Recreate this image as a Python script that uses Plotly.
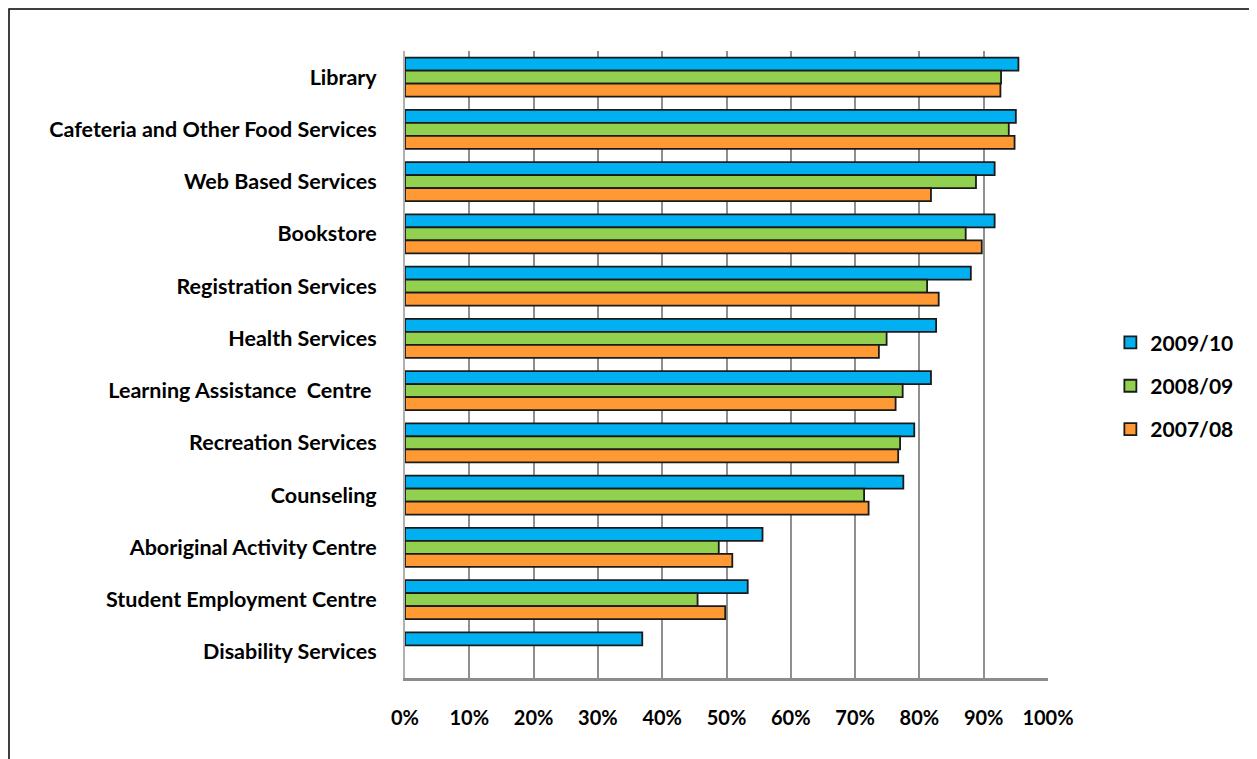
import plotly.graph_objects as go

categories = [
    "Library",
    "Cafeteria and Other Food Services",
    "Web Based Services",
    "Bookstore",
    "Registration Services",
    "Health Services",
    "Learning Assistance  Centre ",
    "Recreation Services",
    "Counseling",
    "Aboriginal Activity Centre",
    "Student Employment Centre",
    "Disability Services",
]

s2009_10 = [95.4, 95.0, 91.7, 91.7, 88.0, 82.6, 81.8, 79.2, 77.5, 55.6, 53.3, 36.9]
s2008_09 = [92.7, 93.9, 88.8, 87.2, 81.2, 74.9, 77.4, 77.0, 71.4, 48.8, 45.5, None]
s2007_08 = [92.6, 94.8, 81.8, 89.7, 83.0, 73.7, 76.3, 76.7, 72.1, 50.9, 49.8, None]

series = [
    ("2009/10", s2009_10, "#00B0F0"),
    ("2008/09", s2008_09, "#92D050"),
    ("2007/08", s2007_08, "#FF9933"),
]

tick_vals = [0, 10, 20, 30, 40, 50, 60, 70, 80, 90, 100]
tick_text = ["0%", "10%", "20%", "30%", "40%", "50%", "60%", "70%", "80%", "90%", "100%"]

fig = go.Figure()
for i, (name, vals, color) in enumerate(series):
    fig.add_trace(go.Bar(
        y=categories,
        x=[v / 100 if v is not None else None for v in vals],
        name=name,
        orientation="h",
        legendgroup=f"g{i}",
        marker=dict(color=color, line=dict(color="#1a1a1a", width=1.8)),
    ))

FONT = "Lato"
W, H = 1249, 751
L, R, T, B = 397, 209, 43, 81
PW, PH = W - L - R, H - T - B

fig.update_layout(
    width=W,
    height=H,
    paper_bgcolor="white",
    plot_bgcolor="white",
    barmode="group",
    bargap=0.25,
    bargroupgap=0.0,
    margin=dict(l=L, r=R, t=T, b=B),
    font=dict(family=FONT, size=21, color="black", weight=700),
    showlegend=True,
    legend=dict(
        x=1.097, xanchor="left", y=0.466, yanchor="middle",
        font=dict(family=FONT, size=21, color="black", weight=700),
        tracegroupgap=13,
        itemwidth=30,
        bgcolor="rgba(0,0,0,0)",
    ),
    xaxis=dict(
        range=[0, 1.0],
        tickvals=[v / 100 for v in tick_vals],
        ticktext=tick_text,
        showgrid=True,
        gridcolor="#8f8f8f",
        gridwidth=2,
        zeroline=False,
        showline=True,
        linecolor="#8c8c8c",
        linewidth=3,
        ticks="outside",
        ticklen=20,
        tickcolor="rgba(0,0,0,0)",
        tickfont=dict(family=FONT, size=20, color="black", weight=700),
    ),
    yaxis=dict(
        autorange="reversed",
        showgrid=False,
        showline=True,
        linecolor="#b0b0b0",
        linewidth=2,
        ticks="outside",
        ticklen=22,
        tickcolor="rgba(0,0,0,0)",
        tickfont=dict(family=FONT, size=21.5, color="black", weight=700),
    ),
    shapes=[
        dict(type="rect", xref="paper", yref="paper",
             x0=-(L - 1) / PW, x1=2.0, y0=-1.0, y1=1 + (T - 1) / PH,
             line=dict(color="black", width=1.5), fillcolor="rgba(0,0,0,0)",
             layer="below"),
    ],
)

fig.write_html("out.html")
